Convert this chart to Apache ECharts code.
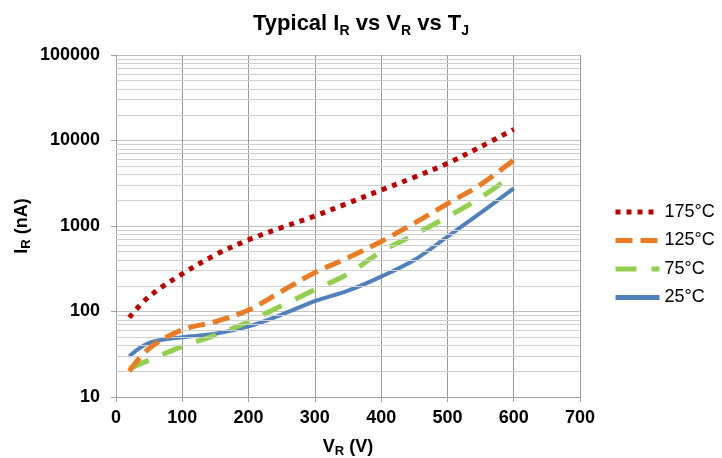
<!doctype html>
<html>
<head>
<meta charset="utf-8">
<title>Typical IR vs VR vs TJ</title>
<script src="https://cdn.jsdelivr.net/npm/echarts@6/dist/echarts.min.js"></script>
</head>
<body style="margin:0;background:#fff;">
<div id="chart" style="width:722px;height:458px;"></div>
<script type="text/javascript">
// reverse voltage (V)
var vr = [20, 50, 100, 150, 200, 250, 300, 350, 400, 450, 500, 550, 600];
// reverse current (nA) per junction temperature
var t175 = [85, 150, 275, 460, 690, 960, 1310, 1850, 2630, 3720, 5400, 8450, 13500];
var t125 = [20, 37, 61, 76, 104, 172, 285, 425, 660, 1080, 1820, 3050, 5900];
var t75 = [21.5, 27, 39, 53, 76, 117, 180, 275, 500, 790, 1280, 2150, 4000];
var t25 = [30, 43, 50, 55, 67, 92, 132, 175, 256, 400, 750, 1420, 2750];
var names = ['175°C', '125°C', '75°C', '25°C'];
var xTicks = [0, 100, 200, 300, 400, 500, 600, 700];
var decades = [10, 100, 1000, 10000];

var font = "'Liberation Sans', Arial, sans-serif";

function pairs(ys) {
	var out = [];
	for (var i = 0; i < vr.length; i++) out.push([vr[i], ys[i]]);
	return out;
}

// minor gridlines 20..90, 200..900 etc
var minor = [];
for (var d = 0; d < decades.length; d++) {
	for (var k = 2; k <= 9; k++) minor.push({yAxis: decades[d] * k});
}

var sub = {fontSize: 13, fontWeight: 'bold', fontFamily: font, color: '#000', verticalAlign: 'bottom', lineHeight: 14};

var mychart = echarts.init(document.getElementById('chart'));
mychart.setOption({
	animation: false,
	title: {
		text: '{b|Typical I}{s|R}{b| vs V}{s|R}{b| vs T}{s|J}',
		left: 'center',
		top: 5,
		textStyle: {
			rich: {
				b: {fontSize: 22, fontWeight: 'bold', fontFamily: font, color: '#000', lineHeight: 28},
				s: {fontSize: 14, fontWeight: 'bold', fontFamily: font, color: '#000', verticalAlign: 'bottom', lineHeight: 15}
			}
		}
	},
	legend: {
		data: names,
		orient: 'vertical',
		left: 608,
		top: 198,
		itemWidth: 44,
		itemHeight: 20,
		itemGap: 10.5,
		itemStyle: {opacity: 0},
		lineStyle: {width: 5},
		textStyle: {fontSize: 18, fontFamily: font, color: '#000'}
	},
	grid: {left: 116, top: 55, width: 464, height: 342, containLabel: false, outerBoundsMode: 'none'},
	xAxis: {
		type: 'value',
		min: 0,
		max: 700,
		interval: 100,
		name: '{b|V}{s|R}{b| (V)}',
		nameLocation: 'middle',
		nameGap: 39,
		nameTextStyle: {
			rich: {
				b: {fontSize: 18, fontWeight: 'bold', fontFamily: font, color: '#000', lineHeight: 22},
				s: sub
			}
		},
		axisLine: {lineStyle: {color: '#a0a0a0', width: 1}},
		axisTick: {show: true, length: 5, lineStyle: {color: '#a0a0a0'}},
		axisLabel: {fontSize: 18, fontWeight: 'bold', fontFamily: font, color: '#000', margin: 12,
			formatter: function (v) { return xTicks.indexOf(v) >= 0 ? String(v) : ''; }},
		splitLine: {show: true, lineStyle: {color: '#9a9a9a', width: 1}}
	},
	yAxis: {
		type: 'log',
		logBase: 10,
		min: 10,
		max: 100000,
		name: '{b|I}{s|R}{b| (nA)}',
		nameLocation: 'middle',
		nameGap: 83,
		nameMoveOverlap: false,
		nameTextStyle: {
			rich: {
				b: {fontSize: 18, fontWeight: 'bold', fontFamily: font, color: '#000', lineHeight: 22},
				s: sub
			}
		},
		axisLine: {show: true, lineStyle: {color: '#a0a0a0', width: 1}},
		axisTick: {show: true, length: 5, lineStyle: {color: '#a0a0a0'}},
		axisLabel: {fontSize: 18, fontWeight: 'bold', fontFamily: font, color: '#000', margin: 16,
			formatter: function (v) { return String(Math.round(v)); }},
		splitLine: {show: true, lineStyle: {color: '#c0c0c0', width: 1}}
	},
	series: [{
		name: 'grid',
		type: 'line',
		data: [],
		z: 1,
		silent: true,
		markLine: {
			silent: true,
			symbol: 'none',
			label: {show: false},
			lineStyle: {color: '#cfcfcf', width: 1, type: 'solid'},
			data: minor
		}
	}, {
		name: '25°C',
		type: 'line',
		data: pairs(t25),
		smooth: 0.35,
		symbol: 'none',
		z: 3,
		lineStyle: {color: '#4F81BD', width: 4},
		itemStyle: {color: '#4F81BD'}
	}, {
		name: '75°C',
		type: 'line',
		data: pairs(t75),
		smooth: 0.35,
		symbol: 'none',
		z: 4,
		lineStyle: {color: '#92D050', width: 5, type: [21, 15], cap: 'butt'},
		itemStyle: {color: '#92D050'}
	}, {
		name: '125°C',
		type: 'line',
		data: pairs(t125),
		smooth: 0.35,
		symbol: 'none',
		z: 5,
		lineStyle: {color: '#EC7C24', width: 5, type: [17, 8], cap: 'butt'},
		itemStyle: {color: '#EC7C24'}
	}, {
		name: '175°C',
		type: 'line',
		data: pairs(t175),
		smooth: 0.35,
		symbol: 'none',
		z: 6,
		lineStyle: {color: '#C00000', width: 5, type: [5, 6], cap: 'butt'},
		itemStyle: {color: '#C00000'}
	}]
});
</script>
</body>
</html>
